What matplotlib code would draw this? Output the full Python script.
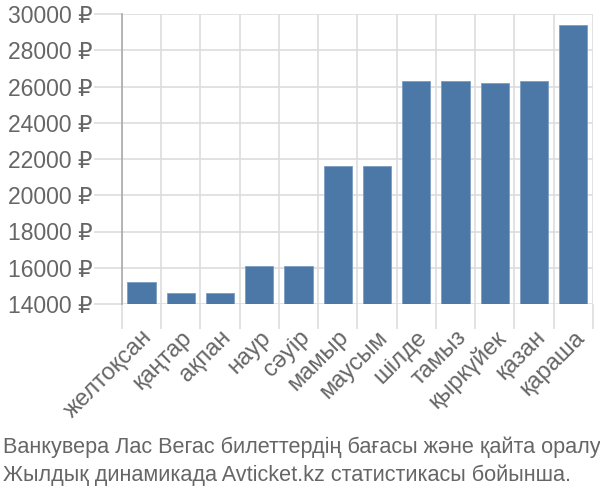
import matplotlib.pyplot as plt
from matplotlib import font_manager

# month labels and average ticket price (RUB)
months = ['желтоқсан', 'қаңтар', 'ақпан', 'наур', 'сәуір', 'мамыр',
          'маусым', 'шілде', 'тамыз', 'қыркүйек', 'қазан', 'қараша']
prices = [15200, 14600, 14600, 16100, 16100, 21600,
          21600, 26300, 26300, 26200, 26300, 29400]
yticks = [14000, 16000, 18000, 20000, 22000, 24000, 26000, 28000, 30000]
caption = ['Ванкувера Лас Вегас билеттердің бағасы және қайта оралу',
           'Жылдық динамикада Avticket.kz статистикасы бойынша.']

names = {f.name for f in font_manager.fontManager.ttflist}
main_font = 'Liberation Sans Narrow' if 'Liberation Sans Narrow' in names else 'Liberation Sans'
plt.rcParams['font.family'] = [main_font, 'DejaVu Sans']

text_col = '#666666'
grid_col = '#dddddd'

fig = plt.figure(figsize=(6, 5), dpi=100)
ax = fig.add_axes([0.203, 0.392, 0.785, 0.58])

x = list(range(len(months)))
ax.bar(x, [p - 14000 for p in prices], bottom=14000, width=0.72,
       color='#4c78a8', edgecolor='#7d9cc2', linewidth=0.6, zorder=3)

ax.set_xlim(-0.5, len(months) - 0.5)
ax.set_ylim(14000, 30000)
ax.set_yticks(yticks)
ax.set_yticklabels([f'{v} ₽' for v in yticks])
ax.set_xticks(x)
ax.set_xticklabels(months, rotation=45, ha='right', rotation_mode='anchor')

# vertical grid lines sit between the categories
ax.set_xticks([i - 0.5 for i in range(len(months) + 1)], minor=True)
ax.grid(True, which='minor', axis='x', color=grid_col, linewidth=1.2, zorder=0)
ax.grid(True, which='major', axis='y', color=grid_col, linewidth=1.2, zorder=0)
ax.tick_params(axis='x', which='major', length=0, pad=16, labelsize=17, labelcolor=text_col)
ax.tick_params(axis='x', which='minor', length=18, width=1.2, color=grid_col)
ax.tick_params(axis='y', length=20, width=1.2, color=grid_col, pad=1,
               labelsize=16.5, labelcolor=text_col)

for s in ['top', 'right', 'bottom']:
    ax.spines[s].set_visible(False)
ax.spines['left'].set_color('#aaaaaa')
ax.spines['left'].set_linewidth(1.2)

fig.text(0.005, 0.105, caption[0], fontsize=15.6, color=text_col, ha='left', va='center')
fig.text(0.005, 0.050, caption[1], fontsize=15.6, color=text_col, ha='left', va='center')

fig.savefig('out.png', dpi=100)
